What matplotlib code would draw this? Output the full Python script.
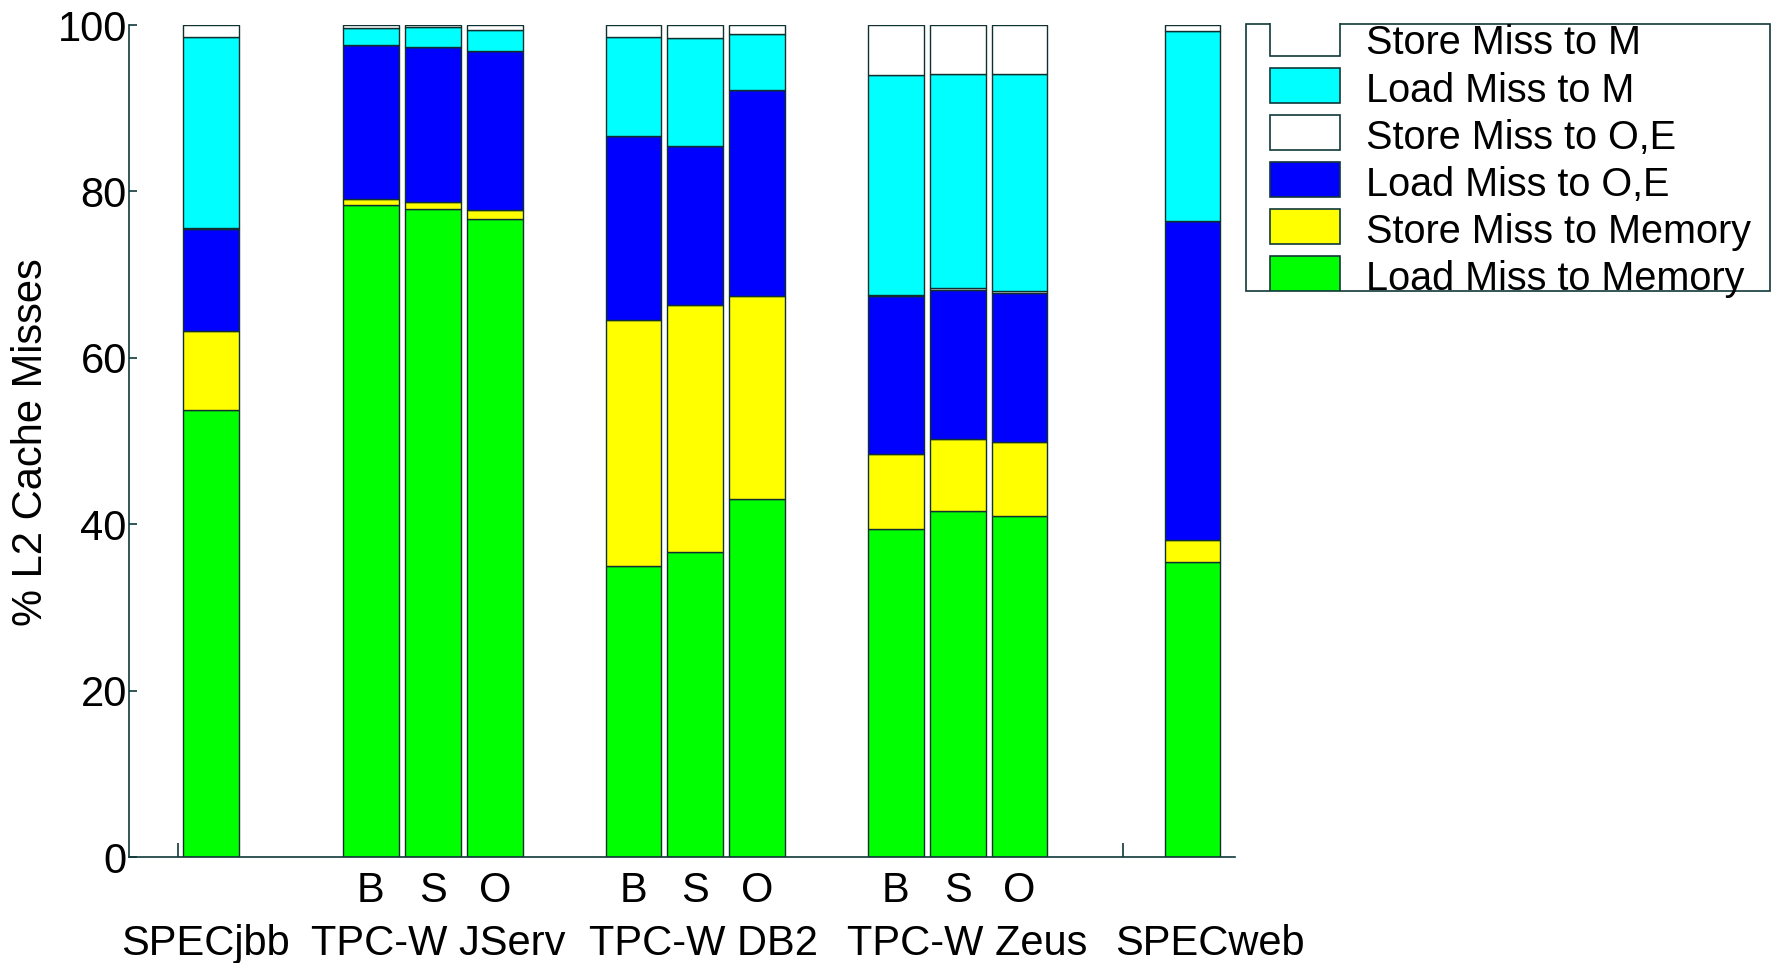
import matplotlib
matplotlib.use("Agg")
import matplotlib.pyplot as plt
from matplotlib.patches import Rectangle
import matplotlib.transforms as mtransforms
import numpy as np

plt.rcParams['font.family'] = ['Liberation Sans', 'DejaVu Sans']

# ---------------- data ----------------
bar_labels = ["", "B", "S", "O", "B", "S", "O", "B", "S", "O", ""]
group_names = ["SPECjbb", "TPC-W JServ", "TPC-W DB2", "TPC-W Zeus", "SPECweb"]
group_members = [[0], [1, 2, 3], [4, 5, 6], [7, 8, 9], [10]]

# stacking order bottom -> top
series_labels = ["Load Miss to Memory", "Store Miss to Memory", "Load Miss to O,E",
                 "Store Miss to O,E", "Load Miss to M", "Store Miss to M"]
series_colors = ["#00ff00", "#ffff00", "#0000ff", "#ffffff", "#00ffff", "#ffffff"]

load_mem   = [53.7, 78.4, 77.9, 76.7, 35.0, 36.6, 43.0, 39.4, 41.6, 41.0, 35.5]
store_mem  = [ 9.5,  0.7,  0.8,  1.1, 29.5, 29.8, 24.4,  9.0,  8.6,  8.9,  2.6]
load_oe    = [12.3, 18.5, 18.6, 19.1, 22.2, 19.0, 24.8, 19.0, 18.0, 17.9, 38.4]
store_oe   = [ 0.1,  0.0,  0.0,  0.0,  0.0,  0.0,  0.0,  0.2,  0.2,  0.2,  0.0]
load_m     = [23.0,  2.0,  2.4,  2.5, 11.8, 13.0,  6.7, 26.4, 25.7, 26.1, 22.8]
store_m    = [ 1.4,  0.4,  0.3,  0.6,  1.5,  1.6,  1.1,  6.0,  5.9,  5.9,  0.7]
series_values = [load_mem, store_mem, load_oe, store_oe, load_m, store_m]

y_ticks = [0, 20, 40, 60, 80, 100]

# ---------------- layout ----------------
W, H = 1773, 963
fig = plt.figure(figsize=(W / 100, H / 100), dpi=100)
FS = 30
FS_LEG = 28.5

ax_left, ax_right, ax_top, ax_bottom = 128.9, 1234.5, 25.0, 857.0
ax = fig.add_axes([ax_left / W, 1 - ax_bottom / H,
                   (ax_right - ax_left) / W, (ax_bottom - ax_top) / H])

unit = 62.0
centers_px = [211, 371, 433, 495, 633.6, 695, 757, 895.6, 957.6, 1019.5, 1192.5]
positions = [(c - ax_left) / unit for c in centers_px]
bar_w = 0.9

bottom = np.zeros(len(positions))
for vals, col, lab in zip(series_values, series_colors, series_labels):
    v = np.array(vals)
    ax.bar(positions, v, bar_w, bottom=bottom, color=col, edgecolor="#103030",
           linewidth=1.0, label=lab, zorder=2)
    bottom += v

ax.set_xlim(0, (ax_right - ax_left) / unit)
ax.set_ylim(0, 100)

for s in ["top", "right"]:
    ax.spines[s].set_visible(False)
for s in ["left", "bottom"]:
    ax.spines[s].set_linewidth(1.2)
    ax.spines[s].set_color("#103838")

ax.set_yticks(y_ticks)
ax.set_yticklabels([str(t) for t in y_ticks], fontsize=FS)
ax.tick_params(axis="y", direction="in", length=6, width=1.2, pad=1.5, colors="#103838",
               labelcolor="black")

# major x ticks (small marks only)
ax.set_xticks([(177.7 - ax_left) / unit, (1123 - ax_left) / unit])
ax.set_xticklabels(["", ""])
ax.tick_params(axis="x", which="major", direction="in", length=10, width=1.2,
               colors="#103838")
# bar sub-labels as minor ticks
ax.set_xticks(positions, minor=True)
ax.set_xticklabels(bar_labels, minor=True, fontsize=FS)
ax.tick_params(axis="x", which="minor", length=0, pad=10)

# group names (small horizontal nudges in px to match the reference spacing)
name_nudge_px = [-6, 5, 8.5, 10, 17]
trans = mtransforms.blended_transform_factory(ax.transData, ax.transAxes)
for name, members, dx in zip(group_names, group_members, name_nudge_px):
    cx = np.mean([positions[i] for i in members]) + dx / unit
    ax.text(cx, (ax_bottom - 955) / (ax_bottom - ax_top), name, transform=trans,
            ha="center", va="baseline", fontsize=FS)

ax.set_ylabel("% L2 Cache Misses", fontsize=FS)
ax.yaxis.label.set_va("center")
ax.yaxis.set_label_coords((31 - ax_left) / (ax_right - ax_left),
                          (ax_bottom - 442) / (ax_bottom - ax_top))

# ---------------- legend (drawn in figure pixel space) ----------------
lax = fig.add_axes([0, 0, 1, 1], zorder=5)
lax.set_xlim(0, W)
lax.set_ylim(H, 0)
lax.axis("off")
lax.patch.set_alpha(0)

bx0, bx1, by0, by1 = 1246, 1770, 24.5, 291
box = Rectangle((bx0, by0), bx1 - bx0, by1 - by0, facecolor="white",
                edgecolor="#103838", linewidth=1.2, zorder=1)
lax.add_patch(box)
clip = Rectangle((bx0, by0 - 1.8), bx1 - bx0, by1 - by0 + 1.8, transform=lax.transData,
                 fill=False, visible=False)
lax.add_patch(clip)

row0, row_step = 38.4, 47.1
for k, idx in enumerate(range(len(series_labels) - 1, -1, -1)):
    yc = row0 + k * row_step
    p = Rectangle((1270, yc - 17.5), 70, 35, facecolor=series_colors[idx],
                  edgecolor="#103838", linewidth=1.2, zorder=2)
    lax.add_patch(p)
    p.set_clip_path(clip)
    lax.text(1366, yc + 16, series_labels[idx], ha="left", va="baseline",
             fontsize=FS_LEG, zorder=3)

fig.savefig("out.png", dpi=100)
